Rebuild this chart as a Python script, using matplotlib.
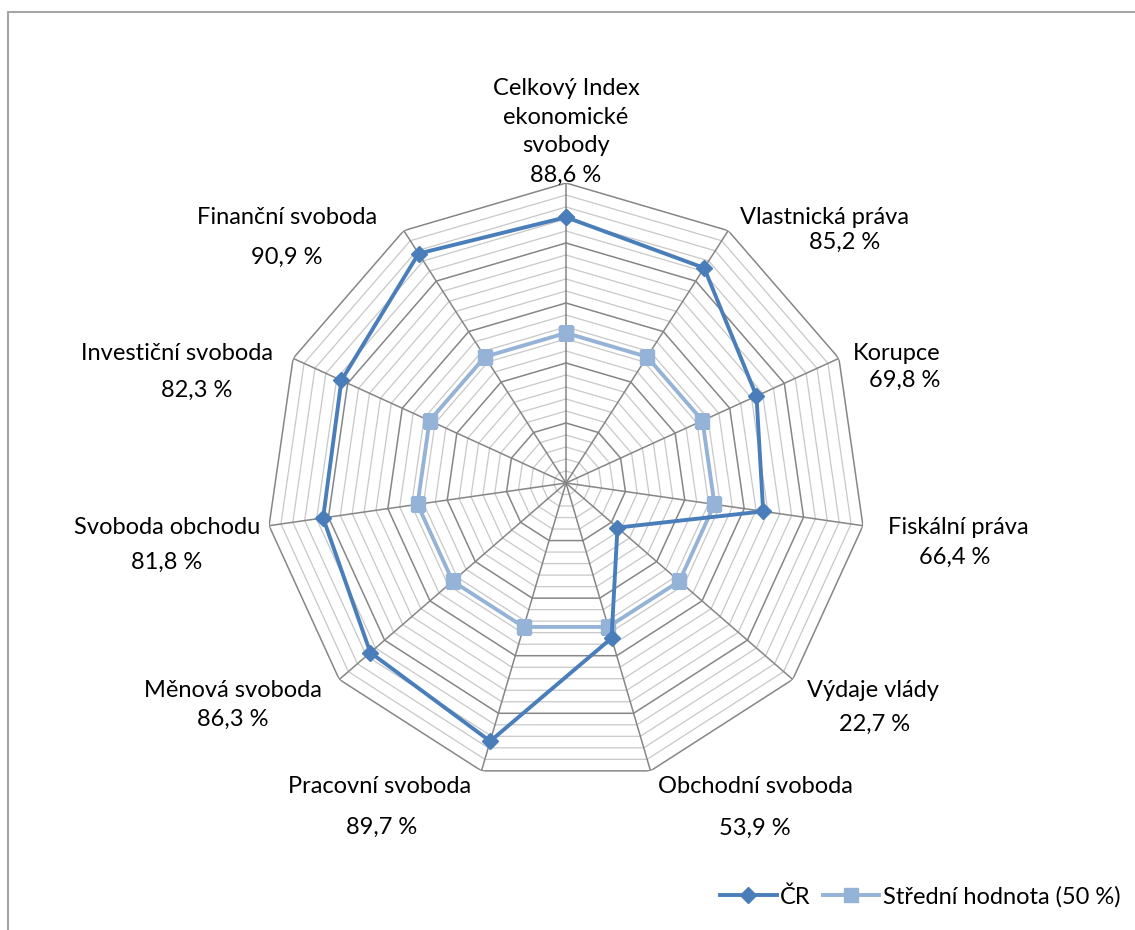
import numpy as np
import matplotlib
matplotlib.use("Agg")
import matplotlib.pyplot as plt
from matplotlib.patches import Rectangle

plt.rcParams['font.family'] = ['Lato', 'DejaVu Sans']

#%% data
categories = ["Celkový Index\nekonomické\nsvobody", "Vlastnická práva", "Korupce",
              "Fiskální práva", "Výdaje vlády", "Obchodní svoboda", "Pracovní svoboda",
              "Měnová svoboda", "Svoboda obchodu", "Investiční svoboda", "Finanční svoboda"]
cr_values = [88.6, 85.2, 69.8, 66.4, 22.7, 53.9, 89.7, 86.3, 81.8, 82.3, 90.9]
mid_values = [50] * 11
value_labels = ["88,6 %", "85,2 %", "69,8 %", "66,4 %", "22,7 %", "53,9 %",
                "89,7 %", "86,3 %", "81,8 %", "82,3 %", "90,9 %"]

W, H = 1135, 930
fig = plt.figure(figsize=(W / 100, H / 100), dpi=100)

# chart border (only left/top visible in the original)
fig.patches.append(Rectangle((8 / W, -0.1), 1.2, 1 - 12 / H + 0.1, transform=fig.transFigure,
                             fill=False, edgecolor='#a6a6a6', lw=1.5))

cx, cy, R = 566, 483, 300
ax = fig.add_axes([(cx - R) / W, (H - cy - R) / H, 2 * R / W, 2 * R / H], polar=True)
ax.set_theta_zero_location('N')
ax.set_theta_direction(-1)
ax.set_ylim(0, 100)
ax.grid(False)
ax.spines['polar'].set_visible(False)
ax.set_xticks([])
ax.set_yticks([])
ax.patch.set_alpha(0)

n = len(categories)
theta = np.linspace(0, 2 * np.pi, n, endpoint=False)
theta_c = np.append(theta, theta[0])

# polygon grid
for r in range(4, 101, 4):
    major = r % 20 == 0
    ax.plot(theta_c, [r] * (n + 1), color='#868686' if major else '#c8c8c8',
            lw=1.1 if major else 0.9, zorder=1)
for t in theta:
    ax.plot([t, t], [0, 100], color='#868686', lw=1.1, zorder=1)

#%% series
ax.plot(theta_c, cr_values + cr_values[:1], color='#4a7ebb', lw=2.8, marker='D',
        markersize=8, zorder=4, label='ČR')
ax.plot(theta_c, mid_values + mid_values[:1], color='#95b3d7', lw=2.8, marker='s',
        markersize=10, zorder=3, label='Střední hodnota (50 %)')

#%% category labels (pixel positions)
name_pos = [(566, 117), (825, 218), (897, 353), (958, 528), (873, 690), (755, 786),
            (380, 786), (233, 690), (167, 528), (177, 353), (287, 218)]
val_pos = [(566, 175), (845, 242), (905, 380), (955, 557), (875, 724), (755, 828),
           (382, 827), (233, 719), (167, 562), (197, 390), (287, 257)]
for name, lab, (nx, ny), (vx, vy) in zip(categories, value_labels, name_pos, val_pos):
    fig.text(nx / W, 1 - ny / H, name, ha='center', va='center', fontsize=17,
             linespacing=1.45, color='black')
    fig.text(vx / W, 1 - vy / H, lab, ha='center', va='center', fontsize=17, color='black')

leg = fig.legend(loc='center right', bbox_to_anchor=(1130 / W, 1 - 897 / H), ncol=2,
                 frameon=False, fontsize=17, handlelength=2.4, handletextpad=0.15,
                 columnspacing=0.5, borderaxespad=0)

fig.savefig("out.png", dpi=100)
